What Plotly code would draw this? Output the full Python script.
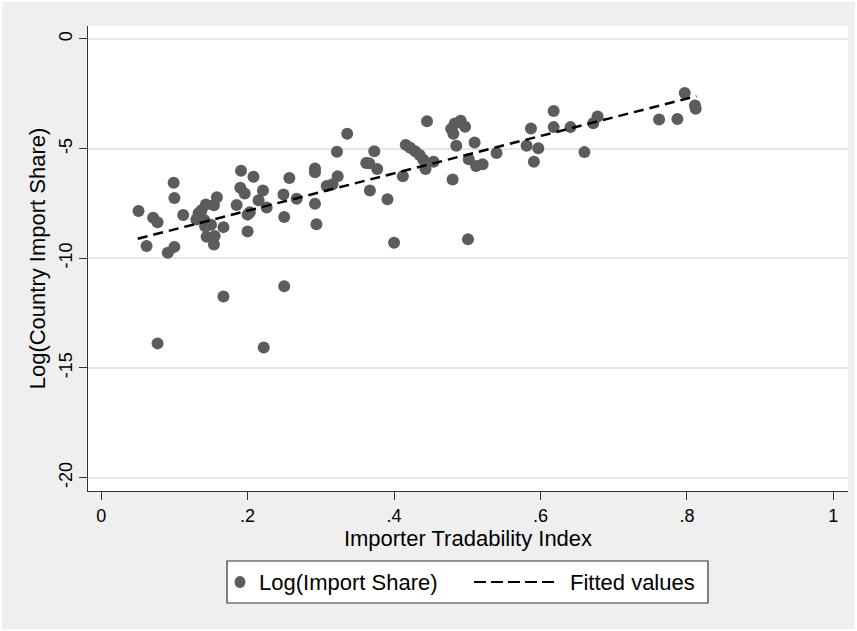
import plotly.graph_objects as go

# Data
tradability = [0.051, 0.062, 0.071, 0.077, 0.077, 0.091, 0.100, 0.099, 0.100, 0.112,
               0.130, 0.133, 0.137, 0.143, 0.141, 0.142, 0.144, 0.150, 0.154, 0.155,
               0.154, 0.158, 0.167, 0.167, 0.185, 0.191, 0.190, 0.196, 0.200, 0.200,
               0.203, 0.208, 0.215, 0.221, 0.226, 0.222, 0.249, 0.250, 0.250, 0.257,
               0.267, 0.292, 0.292, 0.292, 0.294, 0.308, 0.316, 0.323, 0.322, 0.336,
               0.362, 0.366, 0.373, 0.377, 0.367, 0.391, 0.400, 0.412, 0.416, 0.422,
               0.429, 0.435, 0.440, 0.443, 0.445, 0.454, 0.478, 0.481, 0.483, 0.491,
               0.497, 0.485, 0.480, 0.501, 0.502, 0.510, 0.512, 0.521, 0.540, 0.581,
               0.587, 0.591, 0.597, 0.618, 0.618, 0.641, 0.660, 0.672, 0.678, 0.762,
               0.787, 0.797, 0.811, 0.812]
log_import_share = [-7.84, -9.44, -8.15, -8.36, -13.88, -9.75, -9.48, -6.56, -7.25, -8.03,
                    -8.23, -7.95, -7.81, -7.55, -8.26, -8.54, -9.02, -8.47, -7.58, -8.98,
                    -9.37, -7.22, -8.58, -11.74, -7.57, -6.01, -6.78, -7.05, -8.01, -8.78,
                    -7.90, -6.28, -7.35, -6.91, -7.68, -14.07, -7.09, -8.12, -11.28, -6.34,
                    -7.29, -5.91, -6.08, -7.51, -8.45, -6.70, -6.63, -6.26, -5.14, -4.32,
                    -5.66, -5.67, -5.12, -5.93, -6.91, -7.31, -9.29, -6.26, -4.83, -4.96,
                    -5.12, -5.29, -5.51, -5.93, -3.75, -5.60, -4.10, -4.32, -3.86, -3.73,
                    -4.00, -4.87, -6.41, -9.13, -5.49, -4.72, -5.79, -5.71, -5.20, -4.87,
                    -4.08, -5.60, -4.98, -3.29, -4.02, -4.02, -5.16, -3.84, -3.54, -3.67,
                    -3.65, -2.46, -3.03, -3.18]
fit_x = [0.050, 0.813]
fit_y = [-9.11, -2.61]

x_ticks = [0, 0.2, 0.4, 0.6, 0.8, 1]
x_tick_labels = ["0", ".2", ".4", ".6", ".8", "1"]
y_ticks = [0, -5, -10, -15, -20]
y_tick_labels = ["0", "-5", "-10", "-15", "-20"]

FONT = "Liberation Sans, Arial, sans-serif"
DOT = "#5c5c5c"
DASH = "10px,6px"
TFS = 22

fig = go.Figure()
fig.add_trace(go.Scatter(x=tradability, y=log_import_share, mode="markers",
                         marker=dict(size=12, color=DOT, line=dict(width=0)),
                         name="Log(Import Share)", showlegend=False))
fig.add_trace(go.Scatter(x=fit_x, y=fit_y, mode="lines",
                         line=dict(color="black", width=2.5, dash=DASH),
                         name="Fitted values", showlegend=False))

# plot area in pixels: x 88..848, y 26..491
W, H = 857, 631
L, R, T, B = 88, 9, 26, 140
pw, ph = W - L - R, H - T - B
def px(x):
    return (x - L) / pw
def py(y):
    return (H - B - y) / ph

shapes = [
    # legend box
    dict(type="rect", xref="paper", yref="paper", x0=px(227), x1=px(708), y0=py(603), y1=py(561),
         line=dict(color="#333333", width=1.2), fillcolor="white", layer="above"),
    dict(type="circle", xref="paper", yref="paper", xsizemode="pixel", ysizemode="pixel",
         xanchor=px(240), yanchor=py(582), x0=-5.5, x1=5.5, y0=-6, y1=6,
         fillcolor=DOT, line=dict(width=0), layer="above"),
    dict(type="line", xref="paper", yref="paper", x0=px(474), x1=px(557), y0=py(582), y1=py(582),
         line=dict(color="black", width=2.2, dash="12px,5px"), layer="above"),
    # outer light frame
    dict(type="rect", xref="paper", yref="paper", x0=px(1), x1=px(856), y0=py(630), y1=py(1),
         line=dict(color="white", width=2), fillcolor="rgba(0,0,0,0)", layer="below"),
]
annotations = [
    dict(text="Log(Import Share)", xref="paper", yref="paper", x=px(257), y=py(582),
         xanchor="left", yanchor="middle", showarrow=False, font=dict(size=TFS, color="black", family=FONT)),
    dict(text="Fitted values", xref="paper", yref="paper", x=px(568), y=py(582),
         xanchor="left", yanchor="middle", showarrow=False, font=dict(size=TFS, color="black", family=FONT)),
]

fig.update_layout(
    width=W, height=H,
    margin=dict(l=L, r=R, t=T, b=B, pad=0, autoexpand=False),
    paper_bgcolor="#efefef", plot_bgcolor="white",
    font=dict(family=FONT, color="black"),
    showlegend=False,
    shapes=shapes, annotations=annotations,
    xaxis=dict(range=[-0.018, 1.02], tickvals=x_ticks, ticktext=x_tick_labels, automargin=False,
               showgrid=False, zeroline=False, showline=True, linecolor="#333333", linewidth=1.2,
               ticks="outside", ticklen=8, tickcolor="#333333", tickwidth=1.2,
               tickfont=dict(size=18, color="black"),
               title=dict(text="Importer Tradability Index", font=dict(size=TFS, color="black"), standoff=2)),
    yaxis=dict(range=[-20.61, 0.59], tickvals=y_ticks, ticktext=y_tick_labels, automargin=False,
               showgrid=True, gridcolor="#e6e6e6", gridwidth=1.5, zeroline=False,
               showline=True, linecolor="#333333", linewidth=1.2,
               ticks="outside", ticklen=8, tickcolor="#333333", tickwidth=1.2, tickangle=-90,
               tickfont=dict(size=18, color="black"),
               title=dict(text="Log(Country Import Share)", font=dict(size=TFS, color="black"), standoff=4)),
)

fig.write_html("out.html", config={"displayModeBar": False},
               post_script="document.body.style.margin='0';document.body.style.overflow='hidden';")
